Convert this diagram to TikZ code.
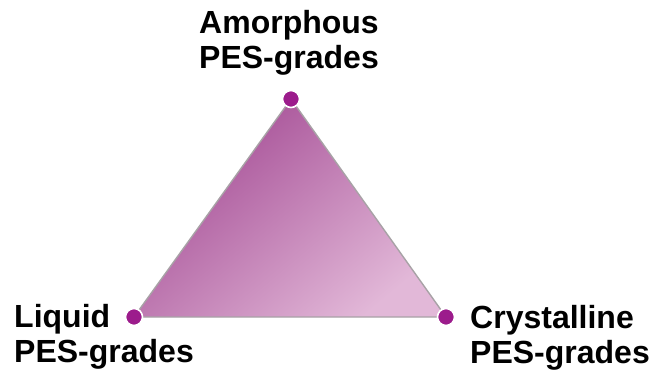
\documentclass[tikz,border=0pt]{standalone}
\usepackage{fontspec}
\setmainfont{Liberation Sans}
\definecolor{dotc}{HTML}{9C1C8C}
\definecolor{tridark}{HTML}{A24892}
\definecolor{trilight}{HTML}{E2B8D8}
\definecolor{edgec}{HTML}{A8A2A6}
\begin{document}
\begin{tikzpicture}[x=1pt,y=-1pt,
  vdot/.style={circle,fill=dotc,draw=white,line width=1.6pt,minimum size=17pt,inner sep=0pt},
  lbl/.style={inner sep=0pt,align=left,font=\bfseries\fontsize{32}{35}\selectfont},
  lblc/.style={inner sep=0pt,align=center,font=\bfseries\fontsize{32}{35}\selectfont}]
\useasboundingbox (0,0) rectangle (652,374);
\coordinate (A) at (291,99);
\coordinate (L) at (134,317);
\coordinate (R) at (446,317);
\shade[top color=tridark,bottom color=trilight,shading angle=40] (A) -- (L) -- (R) -- cycle;
\draw[edgec,line width=1.4pt,line join=round] (A) -- (L) -- (R) -- cycle;
\node[vdot] (dA) at (A) {};
\node[vdot] (dL) at (L) {};
\node[vdot] (dR) at (R) {};
\node[lblc,anchor=north] (tA) at (289,10) {Amorphous\\PES-grades};
\node[lbl,anchor=north west] (tL) at (14,304) {Liquid\\PES-grades};
\node[lbl,anchor=north west] (tR) at (470,305) {Crystalline\\PES-grades};
\end{tikzpicture}
\end{document}
